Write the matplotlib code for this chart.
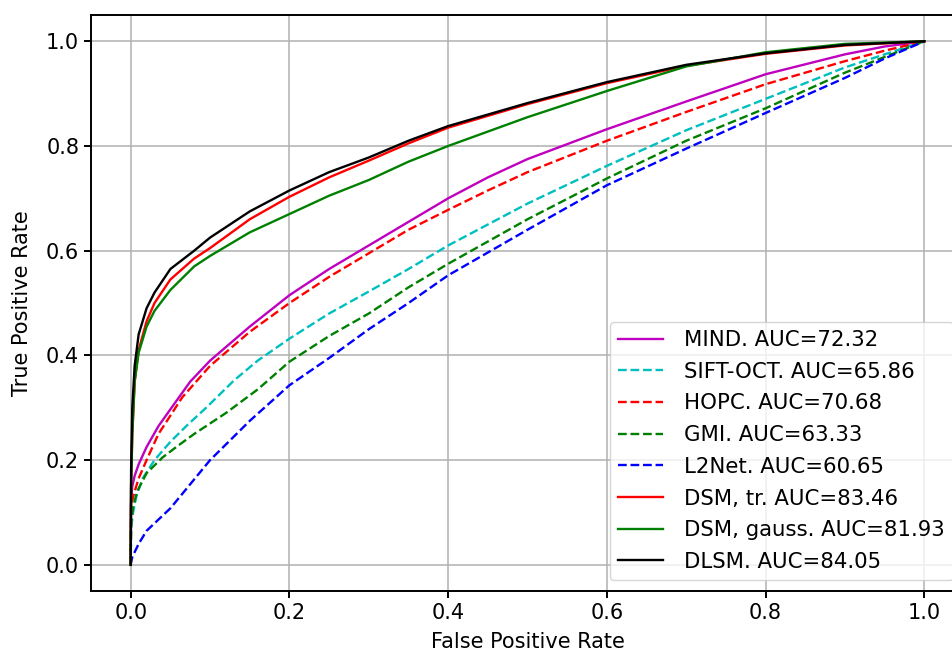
import matplotlib
matplotlib.use("Agg")
import matplotlib.pyplot as plt

plt.rcParams["font.size"] = 15

# ROC curves (fpr, tpr)
mind_fpr = [0, 0.0005, 0.002, 0.005, 0.01, 0.02, 0.035, 0.05, 0.075, 0.1, 0.15, 0.2, 0.25, 0.3, 0.35, 0.4, 0.45, 0.5, 0.6, 0.7, 0.8, 0.9, 0.95, 1]
mind_tpr = [0, 0.12, 0.15, 0.17, 0.192, 0.225, 0.265, 0.297, 0.35, 0.39, 0.455, 0.515, 0.565, 0.61, 0.655, 0.70, 0.74, 0.775, 0.832, 0.885, 0.937, 0.975, 0.99, 1]

sift_fpr = [0, 0.0005, 0.003, 0.007, 0.015, 0.03, 0.05, 0.07, 0.095, 0.13, 0.16, 0.2, 0.25, 0.3, 0.35, 0.4, 0.5, 0.6, 0.7, 0.8, 0.9, 0.95, 1]
sift_tpr = [0, 0.07, 0.1, 0.13, 0.165, 0.2, 0.235, 0.265, 0.3, 0.352, 0.39, 0.432, 0.48, 0.522, 0.565, 0.61, 0.69, 0.762, 0.83, 0.89, 0.95, 0.975, 1]

hopc_fpr = [0, 0.0005, 0.003, 0.01, 0.02, 0.035, 0.05, 0.065, 0.1, 0.15, 0.2, 0.25, 0.3, 0.35, 0.4, 0.45, 0.5, 0.6, 0.7, 0.8, 0.9, 0.95, 1]
hopc_tpr = [0, 0.11, 0.13, 0.165, 0.2, 0.25, 0.285, 0.32, 0.38, 0.445, 0.50, 0.55, 0.595, 0.64, 0.678, 0.715, 0.75, 0.81, 0.865, 0.918, 0.962, 0.982, 1]

gmi_fpr = [0, 0.0005, 0.003, 0.008, 0.02, 0.04, 0.06, 0.08, 0.12, 0.16, 0.2, 0.25, 0.3, 0.35, 0.4, 0.5, 0.6, 0.7, 0.8, 0.9, 0.95, 1]
gmi_tpr = [0, 0.08, 0.11, 0.14, 0.175, 0.205, 0.228, 0.25, 0.29, 0.335, 0.388, 0.437, 0.48, 0.53, 0.575, 0.66, 0.738, 0.81, 0.872, 0.94, 0.97, 1]

l2net_fpr = [0, 0.002, 0.01, 0.02, 0.05, 0.1, 0.15, 0.2, 0.25, 0.3, 0.35, 0.4, 0.5, 0.6, 0.7, 0.8, 0.9, 0.95, 1]
l2net_tpr = [0, 0.015, 0.04, 0.065, 0.108, 0.2, 0.275, 0.343, 0.395, 0.45, 0.5, 0.553, 0.64, 0.725, 0.795, 0.863, 0.93, 0.967, 1]

dsm_tr_fpr = [0, 0.0005, 0.002, 0.005, 0.01, 0.02, 0.03, 0.05, 0.08, 0.1, 0.15, 0.2, 0.25, 0.3, 0.35, 0.4, 0.5, 0.6, 0.7, 0.8, 0.9, 1]
dsm_tr_tpr = [0, 0.15, 0.25, 0.35, 0.41, 0.465, 0.50, 0.545, 0.585, 0.605, 0.66, 0.703, 0.74, 0.772, 0.805, 0.835, 0.88, 0.92, 0.953, 0.976, 0.992, 1]

dsm_g_fpr = [0, 0.0005, 0.002, 0.005, 0.01, 0.02, 0.03, 0.05, 0.08, 0.1, 0.15, 0.2, 0.25, 0.3, 0.35, 0.4, 0.5, 0.6, 0.7, 0.8, 0.9, 1]
dsm_g_tpr = [0, 0.15, 0.25, 0.35, 0.405, 0.455, 0.485, 0.525, 0.57, 0.59, 0.635, 0.67, 0.705, 0.735, 0.77, 0.80, 0.855, 0.905, 0.952, 0.979, 0.995, 1]

dlsm_fpr = [0, 0.0005, 0.002, 0.005, 0.01, 0.02, 0.03, 0.05, 0.08, 0.1, 0.15, 0.2, 0.25, 0.3, 0.35, 0.4, 0.5, 0.6, 0.7, 0.8, 0.9, 1]
dlsm_tpr = [0, 0.18, 0.3, 0.38, 0.44, 0.49, 0.52, 0.565, 0.60, 0.625, 0.675, 0.715, 0.75, 0.778, 0.81, 0.838, 0.882, 0.922, 0.955, 0.977, 0.993, 1]

curves = [
    (mind_fpr, mind_tpr, "m-", "MIND. AUC=72.32"),
    (sift_fpr, sift_tpr, "c--", "SIFT-OCT. AUC=65.86"),
    (hopc_fpr, hopc_tpr, "r--", "HOPC. AUC=70.68"),
    (gmi_fpr, gmi_tpr, "g--", "GMI. AUC=63.33"),
    (l2net_fpr, l2net_tpr, "b--", "L2Net. AUC=60.65"),
    (dsm_tr_fpr, dsm_tr_tpr, "r-", "DSM, tr. AUC=83.46"),
    (dsm_g_fpr, dsm_g_tpr, "g-", "DSM, gauss. AUC=81.93"),
    (dlsm_fpr, dlsm_tpr, "k-", "DLSM. AUC=84.05"),
]

fig = plt.figure(figsize=(9.52, 6.53), dpi=100)
# axes runs past the right edge, as in the cropped original
ax = fig.add_axes([0.0956, 0.0949, 0.917, 0.882])

for fpr, tpr, style, label in curves:
    ax.plot(fpr, tpr, style, label=label, linewidth=1.7)

ax.set_xlim(-0.05, 1.05)
ax.set_ylim(-0.05, 1.05)
ax.set_xticks([0.0, 0.2, 0.4, 0.6, 0.8, 1.0])
ax.set_yticks([0.0, 0.2, 0.4, 0.6, 0.8, 1.0])
ax.grid(True, color="#b0b0b0", linewidth=1.1)
ax.set_axisbelow(True)
for s in ax.spines.values():
    s.set_linewidth(1.4)
ax.tick_params(width=1.4, length=5)
ax.set_xlabel("False Positive Rate", labelpad=6.5)
ax.set_ylabel("True Positive Rate", labelpad=10)
ax.legend(loc="lower right", labelspacing=0.55, handlelength=2.1,
          handletextpad=1.0, prop={"size": 15.3})

fig.savefig("out.png", dpi=100)
